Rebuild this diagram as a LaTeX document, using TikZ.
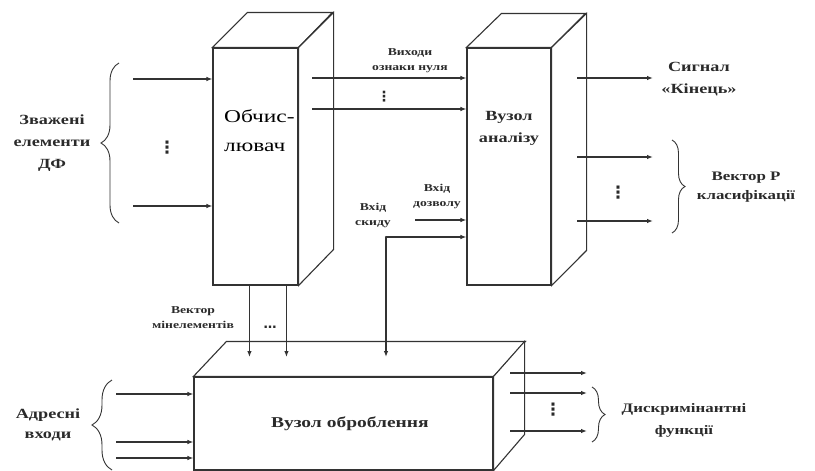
\documentclass[tikz,border=0pt]{standalone}
\usepackage{fontspec}
\setmainfont{Liberation Serif}[FakeStretch=1.3]
\newfontfamily\djv{DejaVu Sans}
\usetikzlibrary{arrows.meta,decorations.pathreplacing,calc}
\definecolor{linec}{HTML}{333333}
\definecolor{txtc}{HTML}{2A2A2A}
\tikzset{
  ln/.style={draw=linec, line width=1.1pt},
  arr/.style={ln, -{Latex[length=6pt,width=4.5pt]}},
  face/.style={draw=linec, line width=1.1pt, fill=white, inner sep=0pt},
  bl/.style={font=\fontsize{14}{22}\selectfont\bfseries, text=txtc, align=center, inner sep=0pt},
  sm/.style={font=\fontsize{10.5}{15}\selectfont\bfseries, text=txtc, align=center, inner sep=0pt},
  vd/.style={font=\djv\bfseries\fontsize{17}{17}\selectfont, text=txtc, inner sep=0pt},
  brc/.style={ln, line width=0.9pt, decorate, decoration={brace, amplitude=#1}},
}
\begin{document}
\begin{tikzpicture}[x=1pt,y=-1pt]
\useasboundingbox (0,0) rectangle (815,471);

% ---------- Обчислювач ----------
\node[face, minimum width=85pt, minimum height=237pt] (calc) at (255.5,166.5) {};
\draw[ln, fill=white] (calc.north west) -- ++(35,-35) -- ++(85,0) -- (calc.north east) -- cycle;
\draw[ln, fill=white] (calc.north east) -- ++(35,-35) -- ++(0,237) -- (calc.south east) -- cycle;
\node[font=\fontsize{18}{29}\selectfont, text=black, align=left, inner sep=0pt, anchor=west] (calct) at (224,131) {Обчис-\\лювач};

% ---------- Вузол аналізу ----------
\node[face, minimum width=84pt, minimum height=237pt] (anal) at (509,166.5) {};
\draw[ln, fill=white] (anal.north west) -- ++(35,-34) -- ++(84,0) -- (anal.north east) -- cycle;
\draw[ln, fill=white] (anal.north east) -- ++(35,-34) -- ++(0,237) -- (anal.south east) -- cycle;
\node[bl] (analt) at (509,128) {Вузол\\аналізу};

% ---------- Вузол оброблення ----------
\node[face, minimum width=299pt, minimum height=93pt] (proc) at (343.5,423.5) {};
\draw[ln, fill=white] (proc.north west) -- ++(33,-35) -- ++(299,0) -- (proc.north east) -- cycle;
\draw[ln, fill=white] (proc.north east) -- ++(31,-35) -- ++(0,93) -- (proc.south east) -- cycle;
\node[bl, font=\fontsize{15}{18}\selectfont\bfseries] (proct) at (350,424) {Вузол оброблення};
\coordinate (ptop) at (0,357);

% ---------- inputs of Обчислювач ----------
\coordinate (in1) at (133,79);
\coordinate (in2) at (133,206);
\draw[arr] (in1) -- (in1 -| calc.west);
\draw[arr] (in2) -- (in2 -| calc.west);
\node[vd] (d1) at (167,148) {⋮};
\draw[brc=18] (119,223) -- (119,63);
\node[bl] (lzv) at (52,143) {Зважені\\елементи\\ДФ};

% ---------- Обчислювач -> Вузол аналізу ----------
\coordinate (o1) at (312,78);
\coordinate (o2) at (312,109);
\draw[arr] (o1) -- (o1 -| anal.west);
\draw[arr] (o2) -- (o2 -| anal.west);
\node[vd, font=\djv\bfseries\fontsize{14}{14}\selectfont] (d2) at (384,97) {⋮};
\node[sm] (lvyh) at (410,61) {Виходи\\ознаки нуля};

% ---------- Вхід дозволу / Вхід скиду ----------
\coordinate (en) at (415,220);
\coordinate (rs) at (386,237);
\draw[arr] (en) -- (en -| anal.west);
\draw[arr] (rs) -- (rs -| anal.west);
\draw[arr] (rs) -- (rs |- ptop);
\fill[linec] (rs) circle (1.2pt);
\node[sm] (ldoz) at (437,196) {Вхід\\дозволу};
\node[sm] (lsk) at (373,215) {Вхід\\скиду};

% ---------- outputs of Вузол аналізу ----------
\coordinate (a1) at (577,78);  \coordinate (b1) at (653,78);
\coordinate (a2) at (577,157); \coordinate (b2) at (653,157);
\coordinate (a3) at (577,221); \coordinate (b3) at (653,221);
\draw[arr] (a1) -- (b1);
\draw[arr] (a2) -- (b2);
\draw[arr] (a3) -- (b3);
\node[vd] (d3) at (618,193) {⋮};
\draw[brc=13] (672,140) -- (672,233);
\node[bl] (lsig) at (699,79) {Сигнал\\«Кінець»};
\node[bl, font=\fontsize{13}{19}\selectfont\bfseries] (lvp) at (746,187) {Вектор P\\класифікації};

% ---------- Вектор мінелементів ----------
\draw[arr] ([xshift=37pt]calc.south west) -- ([xshift=37pt]calc.south west |- ptop);
\draw[arr] ([xshift=74pt]calc.south west) -- ([xshift=74pt]calc.south west |- ptop);
\node[sm] (lvm) at (193,318) {Вектор\\мінелементів};
\node[vd, font=\djv\bfseries\fontsize{13}{13}\selectfont] (d4) at (270,327) {…};

% ---------- Адресні входи ----------
\coordinate (p1) at (116,394);
\coordinate (p2) at (116,442);
\coordinate (p3) at (116,458);
\draw[arr] (p1) -- (p1 -| proc.west);
\draw[arr] (p2) -- (p2 -| proc.west);
\draw[arr] (p3) -- (p3 -| proc.west);
\draw[brc=20] (112,470) -- (112,380);
\node[bl, font=\fontsize{14}{20}\selectfont\bfseries] (lad) at (48,425) {Адресні\\входи};

% ---------- outputs of Вузол оброблення ----------
\coordinate (q1) at (510,373); \coordinate (r1) at (587,373);
\coordinate (q2) at (510,393); \coordinate (r2) at (587,393);
\coordinate (q3) at (510,431); \coordinate (r3) at (587,431);
\draw[arr] (q1) -- (r1);
\draw[arr] (q2) -- (r2);
\draw[arr] (q3) -- (r3);
\node[vd] (d5) at (553,410) {⋮};
\draw[brc=13] (592,387) -- (592,442);
\node[bl, font=\fontsize{13}{22}\selectfont\bfseries] (ldf) at (684,420) {Дискримінантні\\функції};
\end{tikzpicture}
\end{document}
